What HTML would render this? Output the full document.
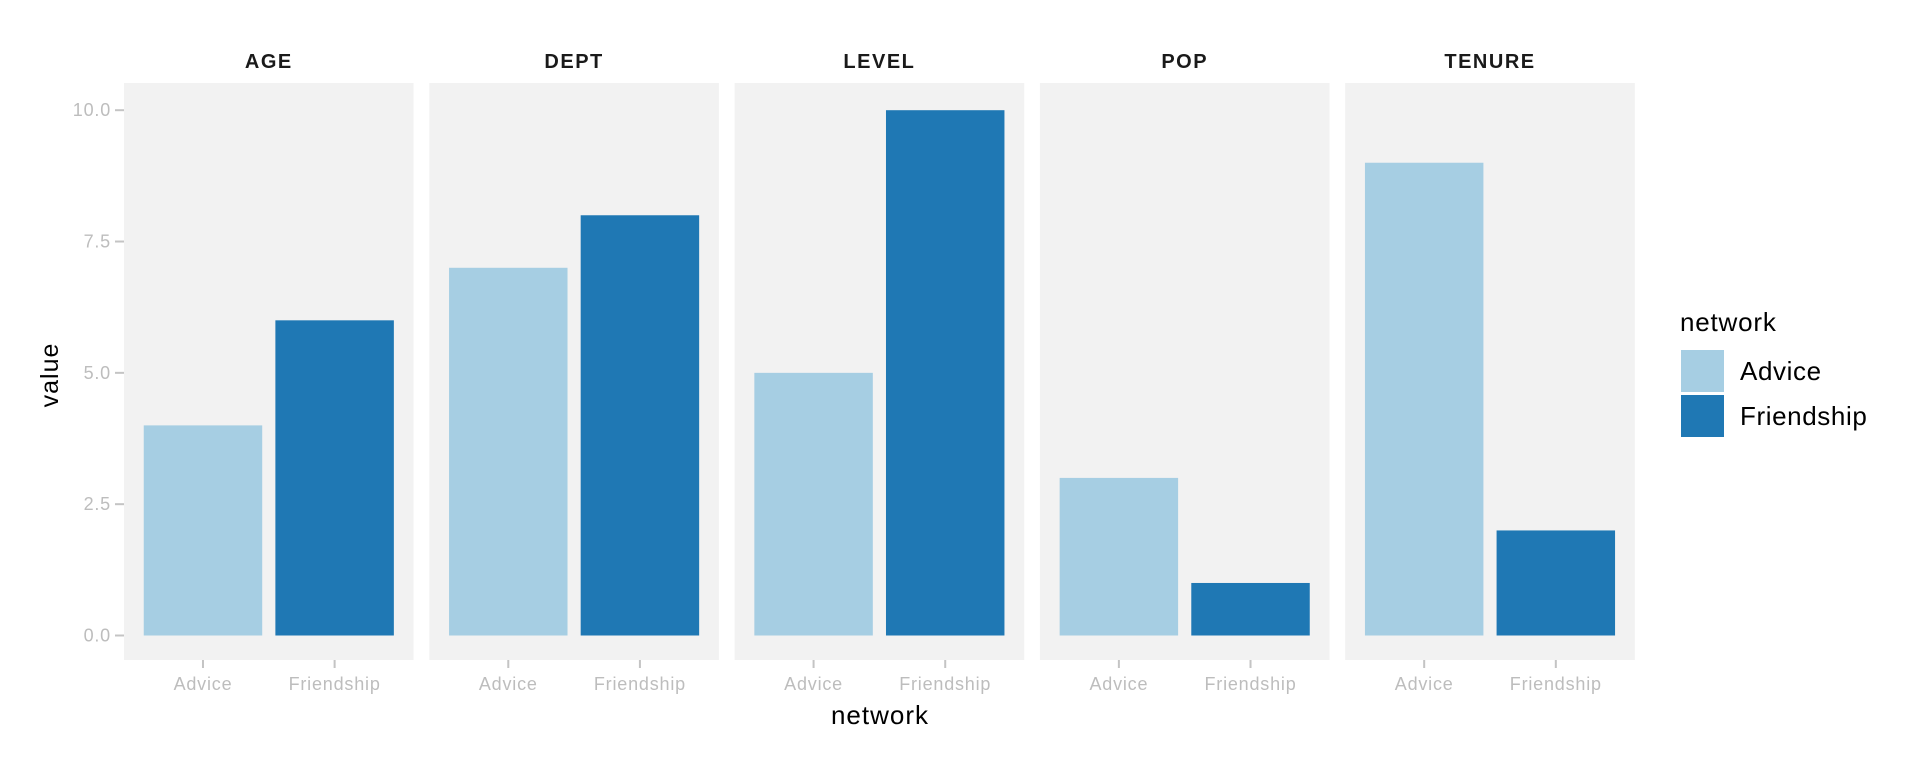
<!DOCTYPE html>
<html><head><meta charset="utf-8"><style>
html,body{margin:0;padding:0;background:#fff;}
svg{display:block;font-family:"Liberation Sans",Arial,sans-serif;}
</style></head><body>
<svg id="chart" width="1920" height="768"></svg>
<script>
const facets = ["AGE","DEPT","LEVEL","POP","TENURE"];
const categories = ["Advice","Friendship"];
const adviceValues = [4,7,5,3,9];
const friendshipValues = [6,8,10,1,2];
const yTicks = [0,2.5,5,7.5,10];
const yTickLabels = ["0.0","2.5","5.0","7.5","10.0"];
const colors = ["#A6CEE3","#1F78B4"];

const NS="http://www.w3.org/2000/svg";
const svg=document.getElementById('chart');
function mk(tag,attrs,parent){const e=document.createElementNS(NS,tag);for(const k in attrs)e.setAttribute(k,attrs[k]);(parent||svg).appendChild(e);return e;}
const panelLeft=124, panelStep=305.3, panelW=289.6, panelTop=83, panelBot=660;
const y0=635.5, y10=110.2;
function yScale(v){return y0-(v/10)*(y0-y10);}
function xScale(panel,catIdx){const unit=panelW/2.2;return panelLeft+panel*panelStep+(0.6+catIdx)*unit;}
const unitW=panelW/2.2, barW=0.9*unitW;
const series=[adviceValues,friendshipValues];

facets.forEach((f,p)=>{
  const px=panelLeft+p*panelStep;
  const bg=mk('rect',{x:px,y:panelTop,width:panelW,height:panelBot-panelTop,fill:'#F2F2F2'});
  
  
  const t=mk('text',{x:px+panelW/2,y:68,'text-anchor':'middle','font-size':'20','font-weight':'bold',fill:'#1a1a1a','letter-spacing':'1.5'});
  t.textContent=f;
  
  
  categories.forEach((c,ci)=>{
    const v=series[ci][p];
    const cx=xScale(p,ci);
    const b=mk('rect',{x:cx-barW/2,y:yScale(v),width:barW,height:yScale(0)-yScale(v),fill:colors[ci]});
    
    
    mk('line',{x1:cx,x2:cx,y1:panelBot,y2:panelBot+8,stroke:'#c4c4c4','stroke-width':2});
    const tl=mk('text',{x:cx,y:690,'text-anchor':'middle','font-size':'18',fill:'#bdbdbd','letter-spacing':'0.8'});
    tl.textContent=c;
    
    
  });
});
yTicks.forEach((v,i)=>{
  const y=yScale(v);
  mk('line',{x1:115,x2:124,y1:y,y2:y,stroke:'#c4c4c4','stroke-width':2});
  const t=mk('text',{x:111,y:y+6,'text-anchor':'end','font-size':'18',fill:'#bdbdbd','letter-spacing':'0.8'});
  t.textContent=yTickLabels[i];
  
  
});
const yt=mk('text',{x:0,y:0,transform:'translate(58,375) rotate(-90)','text-anchor':'middle','font-size':'25',fill:'#000','letter-spacing':'1'});
yt.textContent='value';


const xt=mk('text',{x:880,y:724,'text-anchor':'middle','font-size':'26',fill:'#000','letter-spacing':'1'});
xt.textContent='network';


const lt=mk('text',{x:1680,y:331,'font-size':'26',fill:'#000','letter-spacing':'0.8'});
lt.textContent='network';


categories.forEach((c,i)=>{
  const ky=350+i*45;
  const k=mk('rect',{x:1681,y:ky,width:43,height:42,fill:colors[i]});
  
  
  const l=mk('text',{x:1740,y:ky+30,'font-size':'26',fill:'#000','letter-spacing':'0.6'});
  l.textContent=c;
  
  
});
</script>
</body></html>
